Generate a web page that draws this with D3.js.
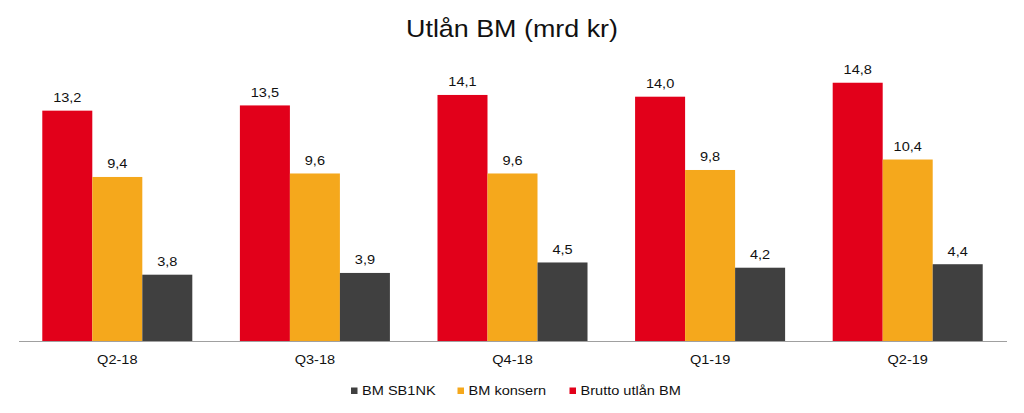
<!DOCTYPE html>
<html><head><meta charset="utf-8">
<script src="https://cdn.jsdelivr.net/npm/d3@7"></script>
<style>body{margin:0;background:#fff}svg{display:block}text{font-family:"Liberation Sans",Arial,sans-serif}</style>
</head><body><svg id="c" width="1024" height="413"></svg>
<script>
const categories = ["Q2-18","Q3-18","Q4-18","Q1-19","Q2-19"];
const seriesNames = ["Brutto utlån BM","BM konsern","BM SB1NK"];
const brutto = [13.2,13.5,14.1,14.0,14.8];
const konsern = [9.4,9.6,9.6,9.8,10.4];
const sb1nk = [3.8,3.9,4.5,4.2,4.4];
const colors = ["#e2001a","#f5a81c","#404040"];
const legendOrder = ["BM SB1NK","BM konsern","Brutto utlån BM"];

const SX = 1.12;
const svg = d3.select("#c");
function txt(sel, x, y, size, str, anchor){
  return sel.append("text").attr("transform",`translate(${x},${y}) scale(${SX},1)`)
    .attr("text-anchor",anchor||"start").attr("font-size",size).attr("fill","#111").text(str);
}
const x0 = d3.scaleBand().domain(categories).range([18.5,1006.5]).paddingInner(0.2408).paddingOuter(0.1204);
const x1 = d3.scaleBand().domain(seriesNames).range([0,x0.bandwidth()]);
const y = d3.scaleLinear().domain([0,16]).range([341,341-16*17.45]);
const data = [brutto,konsern,sb1nk];

txt(svg,512,37,24,"Utlån BM (mrd kr)","middle");

const g = svg.append("g");
categories.forEach((c,i)=>{
  seriesNames.forEach((s,j)=>{
    const v = data[j][i];
    g.append("rect").attr("x",x0(c)+x1(s)).attr("y",y(v)).attr("width",x1.bandwidth()).attr("height",y(0)-y(v)).attr("fill",colors[j]);
    txt(g,x0(c)+x1(s)+x1.bandwidth()/2,y(v)-8.5,13,d3.format(".1f")(v).replace(".",","),"middle");
  });
});

const ax = svg.append("g").attr("transform","translate(0,341)").call(d3.axisBottom(x0).tickSize(0).tickFormat(""));
ax.select(".domain").attr("stroke","#a0a0a0").attr("stroke-width",1.2);
categories.forEach(c=>txt(svg,x0(c)+x0.bandwidth()/2,364,13,c,"middle"));

const legX = [351,457.5,569.5];
legendOrder.forEach((n,k)=>{
  const j = seriesNames.indexOf(n);
  svg.append("rect").attr("x",legX[k]).attr("y",387.5).attr("width",6.5).attr("height",6.5).attr("fill",colors[j]);
  txt(svg,legX[k]+11,395,13,n);
});
</script></body></html>
